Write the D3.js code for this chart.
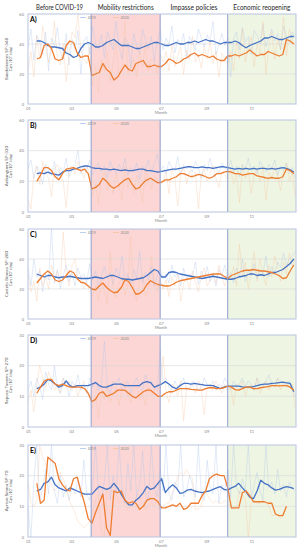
<!DOCTYPE html>
<html><head><meta charset="utf-8">
<script src="https://cdn.jsdelivr.net/npm/d3@7"></script>
<style>body{margin:0;background:#fff}svg{display:block}</style>
</head><body>
<script>
// ---------- data ----------
const monthLabels = ["01","03","05","07","09","11"];
const monthDays = [0,59,120,181,243,304];
const phaseNames = ["Before COVID-19","Mobility restrictions","Impasse policies","Economic reopening"];
const phaseBounds = [0,86,180,272,365];
const roadNames = ["Bandeirantes SP-348","Anhanguera SP-330","Castelo Branco SP-280","Raposo Tavares SP-270","Ayrton Senna SP-70"];
const unitLabel = "Cars (10³ /day)";
const panelLetters = ["A)","B)","C)","D)","E)"];
const yTickSets = [[0,20,40,60],[0,20,40,60],[0,20,40,60],[0,10,20,30],[0,10,20,30]];
const seriesNames = ["2019","2020"];

// 7-day moving averages, every 5 days from day 12
const maA2019 = [42,42,41,39,38,38,37.5,37,34,33,31,32,37,40,41,40,38,38,39,41,42,43,41,39,39,39,38,37,37,38,39,40,41,41,40,39,39,40,41,40,40,41,41,42,41,42,43,42,42,41,40,41,41,41,42,41,39,37.5,39,40,41,42,44,44,45,44,43,43,44,45,45];
const maA2020 = [30,31,39,40,37,30,29,30,39,42,41,34,31,32,32,19,20,21,27,23,21,16,18,22,26,23,22,27,28,29,25,25,26,25,25,27,30,29,27,28,30,31,33,34,32,33,32,31,32,30,29,29,32,32,33,32,33,34,36,34,32,33,33,35,34,33,32,33,43,42,40];
const maB2019 = [25,25.5,25,26,25,24.5,24,26,27,27,28,28.5,29.5,30,30,29,28.5,28.5,28,28,27.5,28,27.5,27,27.5,27,27,27.5,28,28,27,27,26.5,26,26.5,27,27.5,28,28,28.5,29,29.5,29.5,29,29,29.5,29,29,28.5,29,29.5,29.5,29,28.5,28,28.5,28,28.5,28,28.5,28,28.5,28.5,28,28.5,28,28.5,29,28.5,27.5,26];
const maB2020 = [20,24,29,29,27,23,21,25,28,28.5,29,28,27,28,25,15,16,18,22,20,17,15.5,17,19,21,22,18,15,16,19,21,22,20.5,19,19.5,21,21,22,23,25,25,24,23,23.5,24.5,24,23,22,23,25,25,26,26.5,26,25,25,24,24.5,25,25,23.5,23,22.5,22,22.5,22,22,23,28,27,25];
const maC2019 = [30,29,28,29,29,28,27.5,28,28,28.5,28,27.5,27,27,27,27.5,28,27.5,27,28,29,29,28,27,26.5,26.5,26,26.5,27,27.5,29,31,33,32,28,28,31,31.5,31,30,29.5,29,28.5,28,27.5,27,27.5,28,28.5,28,27.5,27,26.5,26.5,27,28,28.5,29,30,30,29,29.5,29,30,31,31,32,33,35,37,40];
const maC2020 = [24,27,30,32,30,26,25,26,29,32,31,27,24.5,24,22,20,19.5,22,24,21,19,17.5,18,21,26,25,21,16.5,17,19,23,25.5,24,23,22.5,22,22,23,24.5,25.5,26,26.5,27,27.5,28,28.5,29,29.5,30,30,30,28.5,27,29,30,31,32,32.5,32.5,33,32.5,32,32,31.5,31,30,29,27,27.5,32,36];
const maD2019 = [12.5,13,14,15.5,15,14,13,13.5,15,13.5,13,13.5,13.5,13.5,13.5,14,14.5,13.5,13,13,13.5,14,14,14,13.5,13.5,13.5,13.5,13.5,14.5,14.8,14.5,13,13.5,14,14.8,14,13,12.5,13.5,14.2,14.2,14,14.2,14,13.8,13.6,13.6,13.5,13,12.5,13,13.3,13.3,13.3,13.3,13.1,13,13,13.2,13.5,13.8,14,14,14.2,14.3,14.5,14.6,14.4,14.2,11.5];
const maD2020 = [11,13,15,15.5,15.5,14,13.5,14,13.5,13,13,13,13,12.5,11,8.3,9,11,11.5,10,10.5,11,12,12,12,11,10,9.5,10.5,11.5,12,12,11,10,10,11,11.5,11.5,12,12.5,12.5,12.5,12.3,12.2,12,12,12.5,12.8,12.8,12.5,12.6,12.8,13.3,13,12.2,12,12.5,13,13,12.5,12.5,12.8,13,13.2,13.5,13.5,13.4,13.5,13.5,13,12];
const maE2019 = [15,15.5,17.5,18,19.5,17,16,15.5,15,16,15.5,15,14.5,14,14,14,15.3,16.5,16,15.5,16,17.5,16,14,12,10.5,10.5,12,13,14.5,16.5,15.5,16,17.5,19,14.5,16,17,16,14.2,14.5,15.3,15.5,15,14.7,14.5,14.8,15,15.5,16,16.4,15.5,15.3,16,16.5,17.5,16,14.7,13,12.5,15,18.5,17.5,17,16,15.3,15.5,16,16.4,16.2,15.8];
const maE2020 = [17.5,11,12,26,25,24,19,17,15.5,15,19,19.5,15,11,6,4.5,8,11,14,3,0.5,15,14.5,15,12,11,11.5,11,9,10,12,12.5,12.5,11.5,9.5,9.5,10,10.5,10,11,9,9.5,11,11,11,13.5,15,19,20,20.5,20,20,16,9.5,9.5,9.5,14.5,15,13.5,11.5,11.5,11.5,11.5,11,11,7.5,7,7,10,null,null];

// daily counts (sampled), spread evenly over the year
const rawA2019 = [38,50,29,46,41,33,48,22,44,39,51,35,30,47,26,43,36,49,20,42,45,33,52,40,37,46,31,48,42,36,55,38,30,44,41,24,47,39,33,50,43,37,45,28,41,49,36,44,40,52,34,43,39,47,30,45,41,36,50,44,38,46,42,55,33,40,47,39,44,18,43,48,36,51,41,45,33,49,46,40,53,38,44,50,42,47,36,52,45,41,48,44];
const rawA2020 = [22,35,18,45,30,52,41,28,36,55,30,26,40,15,33,48,44,60,36,30,27,38,12,25,8,30,22,35,15,28,40,18,23,55,20,26,30,18,35,25,40,22,30,28,20,33,28,35,22,40,25,32,38,20,36,30,45,28,33,24,38,30,42,27,35,18,34,30,26,35,22,42,30,50,28,38,45,25,40,33,55,20,38,48,30,44,36,58,32,50,42,38];
const rawB2019 = [28,34,22,30,26,18,31,27,24,33,21,29,26,35,23,28,31,40,25,30,27,34,24,29,32,26,30,22,33,28,25,31,27,35,24,29,26,32,21,30,28,34,26,31,38,27,30,25,33,29,27,36,24,31,28,30,26,33,29,22,31,27,35,28,30,25,32,29,27,34,26,30,23,31,28,35,27,30,25,33,29,26,31,28,34,24,30,27,32,25,29,22];
const rawB2020 = [8,2,25,30,18,33,26,22,10,28,31,24,20,3,27,30,25,33,28,22,30,26,10,18,5,22,26,14,20,12,25,17,8,30,16,22,12,24,18,6,28,20,15,24,22,18,20,26,12,28,22,4,25,30,18,27,22,26,2,24,28,20,25,30,22,16,26,24,21,28,18,25,6,30,22,27,12,24,28,20,30,8,26,22,29,24,14,27,32,20,26,10];
const rawC2019 = [35,22,40,28,32,18,30,26,60,24,33,20,29,36,25,31,22,34,28,30,24,37,26,32,20,29,35,27,31,23,34,28,42,25,30,22,33,27,45,24,31,26,35,22,29,33,27,30,24,36,28,31,22,34,26,30,28,38,23,32,27,35,25,30,22,33,29,36,26,31,24,34,28,40,25,32,29,37,27,33,30,42,28,35,31,38,34,44,36,40,42,45];
const rawC2020 = [30,18,25,12,34,22,28,20,36,26,32,24,58,30,22,36,40,26,28,20,24,18,15,22,12,26,18,10,45,20,14,24,28,16,22,55,18,12,26,30,15,20,42,24,18,26,20,26,15,28,22,30,12,24,27,20,32,25,18,28,34,22,26,30,24,36,28,22,30,26,35,22,50,28,38,20,32,45,25,40,30,22,36,28,42,34,25,38,30,44,35,40];
const rawD2019 = [12,15,10,16,13,9,18,14,12,20,13,11,16,14,10,15,13,17,12,14,11,16,13,15,12,14,28,13,11,15,14,16,12,13,15,11,14,16,13,12,17,14,15,13,12,25,14,16,13,12,15,13,14,16,12,13,15,14,12,13,16,14,13,15,12,14,13,16,14,12,15,13,14,16,13,15,14,12,16,14,13,15,17,14,13,16,15,14,13,15,12,10];
const rawD2020 = [8,12,5,14,20,16,13,18,15,12,14,11,16,13,15,12,14,10,13,15,12,9,6,10,3,12,9,14,8,11,13,7,12,15,10,8,12,14,9,11,7,13,10,12,14,11,23,12,8,14,13,10,15,2,13,12,14,11,15,12,4,13,14,12,15,13,11,14,12,13,7,14,12,15,10,13,14,12,16,11,13,15,12,14,13,16,12,14,15,13,14,6];
const rawE2019 = [10,0,18,30,12,16,22,14,30,15,11,20,13,17,12,16,14,19,13,25,14,12,16,30,15,13,18,30,12,20,14,30,16,11,24,15,30,13,17,28,14,12,30,16,13,22,15,30,14,12,18,16,30,13,15,20,17,13,30,14,12,25,16,14,30,11,17,15,22,13,30,16,14,19,15,30,13,17,21,15,12,30,16,18,14,22,15,17,13,18,16,15];
const rawE2020 = [18,11,10,12,30,26,24,20,17,15,16,21,19,16,12,10,8,5,4,3,4,5,8,12,14,2,0,16,15,15,14,11,12,11,9,10,12,13,12,11,9,10,11,10,12,9,10,11,11,14,16,20,21,20,22,20,19,9,9,10,15,14,12,11,12,11,11,12,11,10,9,10,15,14,12,0,11,12,11,11,12,11,10,7,7,7,6,7,10,null,null,null];

const panelsMA = [[maA2019,maA2020],[maB2019,maB2020],[maC2019,maC2020],[maD2019,maD2020],[maE2019,maE2020]];
const panelsRaw = [[rawA2019,rawA2020],[rawB2019,rawB2020],[rawC2019,rawC2020],[rawD2019,rawD2020],[rawE2019,rawE2020]];

// ---------- layout ----------
const W = 301, H = 550;
const panelBox = [[14,104],[120,212],[229,319],[335,427],[445,537]];
const headerWidths = [47,56,47,57];
const colRaw = ["#a9c1ee","#f8c39d"];
const colMA = ["#4472c4","#ed7d31"];
const font = "Lato, 'Open Sans', sans-serif";

const svg = d3.select("body").append("svg").attr("width",W).attr("height",H);
const x = d3.scaleLinear().domain([0,365]).range([28,296]);

// phase headers
phaseNames.forEach((p,i)=>{
  svg.append("text").attr("x",(x(phaseBounds[i])+x(phaseBounds[i+1]))/2).attr("y",9.5)
    .attr("text-anchor","middle").attr("font-family",font).attr("font-size",7.6)
    .attr("textLength",headerWidths[i]).attr("lengthAdjust","spacingAndGlyphs")
    .attr("fill","#262626").text(p);
});

panelBox.forEach(([top,bot],pi)=>{
  const g = svg.append("g");
  const ticks = yTickSets[pi];
  const y = d3.scaleLinear().domain([0,ticks[ticks.length-1]]).range([bot,top]);
  // shaded phases
  g.append("rect").attr("x",x(phaseBounds[1])).attr("y",top).attr("width",x(phaseBounds[2])-x(phaseBounds[1])).attr("height",bot-top).attr("fill","#fbd6d5");
  g.append("rect").attr("x",x(phaseBounds[3])).attr("y",top).attr("width",x(phaseBounds[4])-x(phaseBounds[3])).attr("height",bot-top).attr("fill","#eef5e2");
  // grid
  g.selectAll(".grid").data(ticks.slice(1,-1)).join("line")
    .attr("x1",x(0)).attr("x2",x(365)).attr("y1",d=>y(d)).attr("y2",d=>y(d))
    .attr("stroke","#d9d9d9").attr("stroke-width",0.6);
  // raw series
  panelsRaw[pi].forEach((arr,si)=>{
    const n = arr.length;
    const line = d3.line().defined(d=>d!=null).x((d,i)=>x(i*364/(n-1))).y(d=>y(d));
    g.append("path").attr("d",line(arr)).attr("fill","none").attr("stroke",colRaw[si])
      .attr("stroke-width",0.55).attr("opacity",0.6);
  });
  // moving averages
  panelsMA[pi].forEach((arr,si)=>{
    const line = d3.line().defined(d=>d!=null).x((d,i)=>x(12+i*5)).y(d=>y(d));
    g.append("path").attr("d",line(arr)).attr("fill","none").attr("stroke",colMA[si])
      .attr("stroke-width",1.3).attr("stroke-linejoin","round");
  });
  // phase boundary lines
  [phaseBounds[1],phaseBounds[2],phaseBounds[3]].forEach(d=>{
    g.append("line").attr("x1",x(d)).attr("x2",x(d)).attr("y1",top).attr("y2",bot)
      .attr("stroke","#8e9fcf").attr("stroke-width",1);
  });
  // frame
  g.append("rect").attr("x",x(0)).attr("y",top).attr("width",x(365)-x(0)).attr("height",bot-top)
    .attr("fill","none").attr("stroke","#b8c3de").attr("stroke-width",1);
  // y axis
  const ya = g.append("g").attr("transform",`translate(${x(0)},0)`)
    .call(d3.axisLeft(y).tickValues(ticks).tickSize(0).tickPadding(4));
  ya.select(".domain").remove();
  ya.selectAll("text").attr("font-size",4).attr("font-family",font).attr("fill","#7f7f7f");
  // x axis
  const xa = g.append("g").attr("transform",`translate(0,${bot})`)
    .call(d3.axisBottom(x).tickValues(monthDays).tickFormat((d,i)=>monthLabels[i]).tickSize(0).tickPadding(3));
  xa.select(".domain").remove();
  xa.selectAll("text").attr("font-size",4).attr("font-family",font).attr("fill","#7f7f7f");
  g.append("text").attr("x",x(181)).attr("y",bot+10).attr("text-anchor","middle")
    .attr("font-size",4.2).attr("font-family",font).attr("fill","#7f7f7f").text("Month");
  // letter
  g.append("text").attr("x",30).attr("y",top+8).attr("font-size",7).attr("font-weight","bold")
    .attr("font-family",font).attr("fill","#000").text(panelLetters[pi]);
  // legend
  const lx = [80,113];
  seriesNames.forEach((s,si)=>{
    g.append("line").attr("x1",lx[si]).attr("x2",lx[si]+6).attr("y1",top+3.5).attr("y2",top+3.5)
      .attr("stroke",colRaw[si]).attr("stroke-width",0.8);
    g.append("text").attr("x",lx[si]+7.5).attr("y",top+4.8).attr("font-size",3.6)
      .attr("font-family",font).attr("fill","#8c8c8c").text(s);
  });
  // y label
  const cy = (top+bot)/2;
  g.append("text").attr("transform",`translate(7.5,${cy}) rotate(-90)`).attr("text-anchor","middle")
    .attr("font-size",4.6).attr("font-family",font).attr("fill","#595959").text(roadNames[pi]);
  g.append("text").attr("transform",`translate(12,${cy}) rotate(-90)`).attr("text-anchor","middle")
    .attr("font-size",3.8).attr("font-family",font).attr("fill","#595959").text(unitLabel);
});
</script>
</body></html>
